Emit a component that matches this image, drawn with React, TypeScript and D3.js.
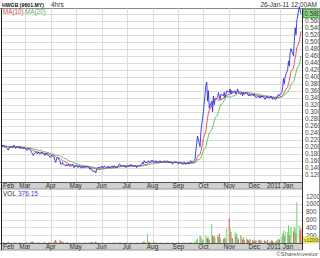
import React from "react";
import * as d3 from "d3";

const W = 320;
const H = 258;

// daily closes, one row per trading week starting Mon 1 Feb 2010
const closes: number[] = [
  0.205, 0.2, 0.205, 0.2, 0.2,
  0.195, 0.19, 0.195, 0.2, 0.2,
  0.2, 0.205, 0.2, 0.195, 0.2,
  0.2, 0.195, 0.2, 0.195, 0.195,
  0.195, 0.195, 0.19, 0.19, 0.195,
  0.19, 0.185, 0.18, 0.175, 0.18,
  0.185, 0.18, 0.185, 0.18, 0.18,
  0.185, 0.18, 0.18, 0.175, 0.18,
  0.175, 0.175, 0.17, 0.17, 0.175,
  0.17, 0.16, 0.155, 0.165, 0.17,
  0.16, 0.15, 0.15, 0.155, 0.15,
  0.145, 0.15, 0.145, 0.15, 0.145,
  0.145, 0.15, 0.145, 0.14, 0.145,
  0.145, 0.14, 0.145, 0.145, 0.14,
  0.14, 0.145, 0.14, 0.14, 0.145,
  0.14, 0.135, 0.14, 0.135, 0.13,
  0.13, 0.125, 0.135, 0.14, 0.14,
  0.14, 0.145, 0.14, 0.14, 0.145,
  0.14, 0.14, 0.145, 0.14, 0.14,
  0.145, 0.14, 0.145, 0.145, 0.14,
  0.145, 0.15, 0.15, 0.145, 0.145,
  0.145, 0.145, 0.14, 0.145, 0.145,
  0.145, 0.15, 0.145, 0.145, 0.145,
  0.145, 0.14, 0.145, 0.145, 0.145,
  0.15, 0.155, 0.15, 0.16, 0.155,
  0.155, 0.16, 0.155, 0.155, 0.16,
  0.16, 0.155, 0.155, 0.16, 0.155,
  0.155, 0.16, 0.155, 0.155, 0.155,
  0.16, 0.155, 0.155, 0.16, 0.155,
  0.155, 0.155, 0.15, 0.155, 0.155,
  0.155, 0.155, 0.15, 0.155, 0.155,
  0.15, 0.15, 0.155, 0.15, 0.15,
  0.155, 0.15, 0.155, 0.16, 0.155,
  0.16, 0.165, 0.19, 0.21, 0.23,
  0.2, 0.24, 0.265, 0.28, 0.3,
  0.375, 0.385, 0.33, 0.36, 0.31,
  0.33, 0.3, 0.345, 0.32, 0.335,
  0.34, 0.355, 0.345, 0.335, 0.35,
  0.345, 0.355, 0.34, 0.35, 0.36,
  0.355, 0.365, 0.35, 0.36, 0.355,
  0.36, 0.35, 0.355, 0.365, 0.355,
  0.35, 0.355, 0.345, 0.355, 0.35,
  0.355, 0.35, 0.345, 0.35, 0.345,
  0.35, 0.345, 0.35, 0.345, 0.34,
  0.345, 0.34, 0.345, 0.34, 0.345,
  0.34, 0.335, 0.34, 0.345, 0.34,
  0.34, 0.345, 0.34, 0.335, 0.34,
  0.335, 0.34, 0.345, 0.35, 0.345,
  0.355, 0.37, 0.395, 0.38, 0.4,
  0.42, 0.445, 0.43, 0.47, 0.48,
  0.46, 0.5, 0.54, 0.52, 0.56,
  0.6, 0.59, 0.58,
];

// daily volume (x1000), same order
const volumes: number[] = [
  10, 5, 20, 8, 3,
  15, 30, 10, 5, 8,
  6, 12, 4, 10, 5,
  8, 20, 6, 10, 4,
  5, 10, 15, 8, 6,
  20, 25, 30, 35, 10,
  12, 8, 15, 10, 6,
  8, 10, 12, 20, 8,
  10, 15, 20, 12, 8,
  20, 60, 80, 30, 10,
  70, 50, 40, 20, 30,
  15, 10, 20, 8, 6,
  10, 5, 12, 8, 10,
  6, 8, 10, 5, 6,
  8, 6, 10, 5, 8,
  10, 15, 8, 20, 25,
  30, 40, 15, 10, 8,
  6, 10, 5, 8, 6,
  5, 8, 6, 10, 5,
  8, 6, 10, 12, 6,
  10, 20, 15, 8, 6,
  5, 8, 6, 10, 8,
  6, 10, 8, 5, 6,
  8, 6, 10, 8, 6,
  10, 20, 30, 40, 15,
  240, 40, 20, 30, 10,
  15, 20, 10, 8, 12,
  10, 8, 6, 10, 8,
  6, 10, 8, 12, 6,
  8, 6, 10, 5, 8,
  10, 8, 12, 6, 10,
  8, 10, 6, 12, 8,
  10, 15, 8, 20, 10,
  30, 20, 60, 90, 120,
  180, 150, 120, 60, 90,
  200, 160, 120, 140, 90,
  490, 200, 150, 180, 130,
  200, 150, 250, 120, 80,
  100, 150, 120, 90, 380,
  640, 380, 280, 150, 120,
  280, 200, 250, 150, 100,
  200, 130, 90, 150, 80,
  120, 90, 70, 60, 100,
  80, 60, 90, 50, 70,
  60, 80, 40, 90, 50,
  70, 50, 60, 40, 80,
  60, 40, 70, 50, 30,
  50, 80, 60, 120, 90,
  150, 250, 320, 180, 300,
  280, 460, 200, 350, 420,
  300, 410, 380, 250, 1050,
  450, 320, 376,
];

const priceTicks: number[] = [0.12, 0.14, 0.16, 0.18, 0.2, 0.22, 0.24, 0.26, 0.28, 0.3, 0.32, 0.34, 0.36, 0.38, 0.4, 0.42, 0.44, 0.46, 0.48, 0.5, 0.52, 0.54, 0.56, 0.58];
const volTicks: number[] = [200, 400, 600, 800, 1000, 1200];
const monthLabels: string[] = ["Mar", "Apr", "May", "Jun", "Jul", "Aug", "Sep", "Oct", "Nov", "Dec", "2011 Jan"];
const firstMonthLabel = "Feb";
const title = "HWGB (9601.MY)";
const interval = "4hrs";
const stamp = "26-Jan-11 12:00AM";
const lastPrice = 0.58;
const lastPriceLabel = "0.580";
const volValueLabel = "376.15";
const volUnitLabel = "x1000s";

const FONT = "'Liberation Sans', Arial, sans-serif";

function tradingDays(n: number): Date[] {
  const out: Date[] = [];
  let w = 0;
  while (out.length < n) {
    for (let d = 0; d < 5 && out.length < n; d++) {
      out.push(new Date(2010, 1, 1 + w * 7 + d));
    }
    w++;
  }
  return out;
}

function movingAvg(vals: number[], n: number): number[] {
  return vals.map((_, i) => {
    const s = Math.max(0, i - n + 1);
    return d3.mean(vals.slice(s, i + 1)) as number;
  });
}

export default function App() {
  const dates = tradingDays(closes.length);
  const x = d3.scaleTime().domain([new Date(2010, 1, 1), new Date(2011, 0, 26)]).range([1.5, 301]);
  const y = d3.scaleLinear().domain([0.1, 0.58]).range([181.7, 13.7]);
  const yv = d3.scaleLinear().domain([0, 1200]).range([243, 196.4]);

  const pLeft = 1.5, pRight = 302.5;
  const pTop = 8.5, pBot = 182.5;
  const bandH = 6.5;
  const vTop = pBot + bandH, vBot = 243.5;

  const ma10 = movingAvg(closes, 10);
  const ma20 = movingAvg(closes, 20);
  const line = d3.line<number>().x((_, i) => x(dates[i])).y((v) => y(v));

  const months = d3.timeMonth.range(new Date(2010, 2, 1), new Date(2011, 0, 2));

  const band = (top: number, key: string) => (
    <g key={key}>
      <rect x={pLeft} y={top} width={pRight - pLeft} height={bandH} fill="#d0d0d0" />
      <line x1={0} x2={pRight} y1={top} y2={top} stroke="#555" strokeWidth={1} />
      <line x1={0} x2={pRight} y1={top + bandH} y2={top + bandH} stroke="#999" strokeWidth={1} />
      <text x={3} y={top + 5.6} fontSize={6.5} fill="#333">{firstMonthLabel}</text>
      {months.map((m, i) => (
        <text key={i} x={x(m)} y={top + 5.6} fontSize={6.5} fill="#333" textAnchor="middle">{monthLabels[i]}</text>
      ))}
    </g>
  );

  return (
    <svg width={W} height={H} style={{ position: "absolute", left: 0, top: 0, background: "#fff" }} fontFamily={FONT}>
      <rect width={W} height={H} fill="#fff" />
      {/* header */}
      <text x={2} y={6.5} fontSize={5.6} fill="#111" fontWeight="bold" textLength={42} lengthAdjust="spacingAndGlyphs">{title}</text>
      <text x={51} y={6.5} fontSize={6.5} fill="#333">{interval}</text>
      <text x={317} y={6.5} fontSize={6.5} fill="#333" textAnchor="end">{stamp}</text>
      <line x1={0} x2={W} y1={pTop} y2={pTop} stroke="#888" />

      {/* price grid */}
      {priceTicks.map((t) => (
        <line key={t} x1={pLeft} x2={pRight} y1={Math.round(y(t)) + 0.5} y2={Math.round(y(t)) + 0.5} stroke="#dcdcdc" />
      ))}
      {months.map((m, i) => (
        <line key={i} x1={Math.round(x(m)) + 0.5} x2={Math.round(x(m)) + 0.5} y1={pTop} y2={pBot} stroke="#dcdcdc" />
      ))}
      <text x={3} y={14} fontSize={6.3} fill="#e04848">MA(10)</text>
      <text x={25} y={14} fontSize={6.3} fill="#5cb85c">MA(20)</text>

      <path d={line(ma20) || ""} fill="none" stroke="#5cb85c" strokeWidth={0.9} />
      <path d={line(ma10) || ""} fill="none" stroke="#e04848" strokeWidth={0.9} />
      <path d={line(closes) || ""} fill="none" stroke="#2f2fe8" strokeWidth={0.9} />

      {/* price axis labels (the last-price box stands in for the top tick) */}
      {priceTicks.filter((t) => Math.abs(t - lastPrice) > 0.001).map((t) => (
        <text key={t} x={305} y={y(t) + 2.3} fontSize={6.3} fill="#444">{d3.format(".3f")(t)}</text>
      ))}
      <rect x={303} y={y(lastPrice) - 4} width={15} height={8} fill="#8fd68f" stroke="#2e8b2e" strokeWidth={0.8} />
      <text x={304.5} y={y(lastPrice) + 2.3} fontSize={6.3} fill="#114411">{lastPriceLabel}</text>

      {band(pBot, "b1")}

      {/* volume panel */}
      {volTicks.map((t) => (
        <line key={t} x1={pLeft} x2={pRight} y1={Math.round(yv(t)) + 0.5} y2={Math.round(yv(t)) + 0.5} stroke="#e2e2e2" />
      ))}
      {months.map((m, i) => (
        <line key={i} x1={Math.round(x(m)) + 0.5} x2={Math.round(x(m)) + 0.5} y1={vTop} y2={vBot} stroke="#dcdcdc" />
      ))}
      <text x={3} y={196} fontSize={6.5} fill="#333">VOL</text>
      <text x={18} y={196} fontSize={6.5} fill="#3a3ad8">{volValueLabel}</text>
      {volumes.map((v, i) => {
        const up = i === 0 ? true : closes[i] >= closes[i - 1];
        return (
          <rect key={i} x={x(dates[i]) - 0.5} y={yv(v)} width={1} height={Math.max(0, yv(0) - yv(v))} fill={up ? "#6fd86f" : "#e05a5a"} />
        );
      })}
      {volTicks.map((t) => (
        <text key={t} x={306} y={yv(t) + 2.3} fontSize={6.3} fill="#444">{t}</text>
      ))}
      <rect x={303} y={237} width={15} height={6} fill="#ffff33" stroke="#aaa" strokeWidth={0.5} />
      <text x={304} y={242} fontSize={5.2} fill="#333">{volUnitLabel}</text>

      {band(vBot, "b2")}

      {/* frame */}
      <line x1={pLeft} x2={pLeft} y1={pTop} y2={vBot + bandH} stroke="#222" />
      <line x1={pRight} x2={pRight} y1={pTop} y2={vBot + bandH} stroke="#333" />
      <line x1={319.5} x2={319.5} y1={pTop} y2={vBot + bandH} stroke="#888" />
      <text x={318} y={256} fontSize={6} fill="#555" textAnchor="end">©ShareInvestor</text>
    </svg>
  );
}
